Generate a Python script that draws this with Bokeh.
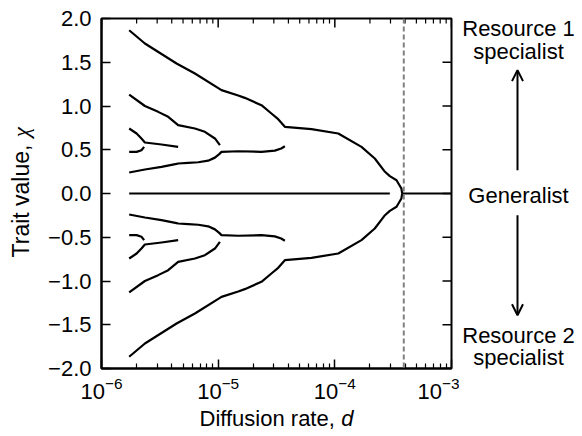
import math
from bokeh.plotting import figure
from bokeh.layouts import row, column
from bokeh.models import Range1d, FixedTicker, Span, Arrow, OpenHead
from bokeh.core.properties import value
from bokeh.embed import file_html
from bokeh.resources import INLINE

# ---------------- data (upper half; lower half is its mirror image) ----------------
d_crit = 3.9e-4

zero_left_d = [1.727e-6, 2.96e-4]
zero_right_d = [3.78e-4, 1e-3]

curve_a_d = [1.727e-6, 2.355e-6, 4.40e-6, 6.32e-6, 1.068e-5, 1.485e-5, 1.69e-5, 2.35e-5,
             2.86e-5, 3.27e-5, 3.73e-5, 6.31e-5, 1.07e-4, 1.692e-4, 2.20e-4, 2.69e-4,
             2.96e-4, 3.38e-4, 3.72e-4, 3.78e-4]
curve_a_chi = [1.866, 1.714, 1.486, 1.371, 1.181, 1.12, 1.093, 1.009,
               0.914, 0.849, 0.762, 0.735, 0.686, 0.533, 0.40, 0.248,
               0.198, 0.152, 0.057, 0.0]

curve_b_d = [1.727e-6, 2.355e-6, 3.27e-6, 4.40e-6, 4.54e-6, 5.53e-6, 6.75e-6, 8.21e-6,
             9.38e-6, 1.021e-5, 1.068e-5, 1.485e-5, 2.35e-5, 3.06e-5, 3.47e-5, 3.73e-5]
curve_b_chi = [0.24, 0.274, 0.305, 0.338, 0.343, 0.35, 0.357, 0.375,
               0.41, 0.45, 0.476, 0.483, 0.476, 0.49, 0.515, 0.54]

curve_c_d = [1.727e-6, 2.355e-6, 3.06e-6, 3.73e-6, 4.54e-6, 6.32e-6, 7.69e-6, 9.38e-6, 1.035e-5]
curve_c_chi = [1.131, 1.0, 0.933, 0.876, 0.781, 0.743, 0.705, 0.629, 0.552]

curve_d_d = [1.727e-6, 2.0e-6, 2.2e-6, 2.355e-6, 3.27e-6, 4.54e-6]
curve_d_chi = [0.743, 0.686, 0.629, 0.583, 0.56, 0.533]

curve_e_d = [1.727e-6, 2.0e-6, 2.2e-6, 2.32e-6]
curve_e_chi = [0.476, 0.476, 0.495, 0.533]

x_ticks = [1e-6, 1e-5, 1e-4, 1e-3]
x_minor_ticks = [m * 10.0 ** e for e in (-6, -5, -4) for m in range(2, 10)]
y_ticks = [-2.0, -1.5, -1.0, -0.5, 0.0, 0.5, 1.0, 1.5, 2.0]
y_tick_labels = ["\u22122.0", "\u22121.5", "\u22121.0", "\u22120.5", "0.0",
                 "0.5", "1.0", "1.5", "2.0"]

annot_text = ["Resource 1", "specialist", "Generalist", "Resource 2", "specialist"]
annot_chi = [1.817, 1.554, -0.091, -1.686, -1.937]
arrow_up = (0.266, 1.41)
arrow_down = (-0.248, -1.391)

x_title = "Diffusion rate, "
x_title_var = "d"
y_title = "Trait value, "
y_title_var = "\u03c7"

# ---------------- layout constants (px) ----------------
FONT = "Liberation Sans"
LEFT_W = 42
MAIN_BL = 59
FRAME = 350
MAIN_BR = 8
MAIN_W = MAIN_BL + FRAME + MAIN_BR
SIDE_W = 117
TOTAL_W = LEFT_W + MAIN_W + SIDE_W
FRAME_TOP = 18
MAIN_BB = 34
ROW_H = FRAME_TOP + FRAME + MAIN_BB
BOTTOM_H = 28
TEXT_DROP = 0.26  # empirical downward offset of glyph text, in em

X_LO, X_HI = 1e-6, 1e-3
Y_LO, Y_HI = -2.0, 2.0
chi_per_px = (Y_HI - Y_LO) / FRAME
dec_per_px = (math.log10(X_HI) - math.log10(X_LO)) / FRAME

MAJ, MIN = 9, 5

# ---------------- main plot ----------------
p = figure(width=MAIN_W, height=ROW_H, x_axis_type="log",
           x_range=Range1d(X_LO, X_HI), y_range=Range1d(Y_LO, Y_HI),
           output_backend="svg", toolbar_location=None,
           min_border_left=MAIN_BL, min_border_right=MAIN_BR,
           min_border_top=FRAME_TOP, min_border_bottom=MAIN_BB)
p.grid.visible = False
p.outline_line_color = "black"
p.outline_line_width = 2

bx = p.below[0]
ly = p.left[0]
bx.ticker = FixedTicker(ticks=x_ticks, minor_ticks=x_minor_ticks)
ly.ticker = FixedTicker(ticks=y_ticks)
ly.minor_tick_line_color = None
for ax in (bx, ly):
    ax.axis_line_width = 2
    ax.axis_line_color = "black"
    ax.major_tick_in = MAJ
    ax.major_tick_out = 0
    ax.minor_tick_in = MIN
    ax.minor_tick_out = 0
    ax.major_tick_line_width = 1.5
    ax.minor_tick_line_width = 1.2
    ax.major_label_text_font = FONT
    ax.major_label_text_font_size = "22px"
    ax.major_label_text_color = "black"
bx.major_label_standoff = 8
ly.major_label_standoff = 10
ly.major_label_overrides = dict(zip(y_ticks, y_tick_labels))

# mirrored ticks on the top and right edges
top_in_maj = Y_HI - MAJ * chi_per_px
top_in_min = Y_HI - MIN * chi_per_px
p.segment(x0=x_ticks, y0=[top_in_maj] * len(x_ticks), x1=x_ticks, y1=[Y_HI] * len(x_ticks),
          line_color="black", line_width=1.5)
p.segment(x0=x_minor_ticks, y0=[top_in_min] * len(x_minor_ticks), x1=x_minor_ticks,
          y1=[Y_HI] * len(x_minor_ticks), line_color="black", line_width=1.2)
right_in = 10 ** (math.log10(X_HI) - MAJ * dec_per_px)
p.segment(x0=[right_in] * len(y_ticks), y0=y_ticks, x1=[X_HI] * len(y_ticks), y1=y_ticks,
          line_color="black", line_width=1.5)

p.add_layout(Span(location=d_crit, dimension="height", line_color="#808080",
                  line_width=2, line_dash="5 3"))

LW = 2.2
p.line(zero_left_d, [0, 0], line_color="black", line_width=LW)
p.line(zero_right_d, [0, 0], line_color="black", line_width=LW)
for dd, cc in [(curve_a_d, curve_a_chi), (curve_b_d, curve_b_chi),
               (curve_c_d, curve_c_chi), (curve_d_d, curve_d_chi),
               (curve_e_d, curve_e_chi)]:
    p.line(dd, cc, line_color="black", line_width=LW, line_join="round")
    p.line(dd, [-c for c in cc], line_color="black", line_width=LW, line_join="round")


def blank(width, height, xr, yr, top=0, bottom=0):
    f = figure(width=width, height=height, x_range=xr, y_range=yr,
               output_backend="svg", toolbar_location=None,
               min_border_left=0, min_border_right=0,
               min_border_top=top, min_border_bottom=bottom,
               x_axis_location=None, y_axis_location=None)
    f.grid.visible = False
    f.outline_line_color = None
    return f


# ---------------- left strip: y title ----------------
left = blank(LEFT_W, ROW_H, Range1d(0, LEFT_W), Range1d(Y_LO, Y_HI), FRAME_TOP, MAIN_BB)
Y_FS = 23
y_start = -0.731
left.text(x=[20.5], y=[y_start], text=[y_title], angle=math.pi / 2,
          text_font=value(FONT), text_font_size=value(f"{Y_FS}px"),
          text_align="left", text_baseline="middle", text_color="black")
left.text(x=[20.5], y=[y_start + 5.224 * Y_FS * chi_per_px], text=[y_title_var],
          angle=math.pi / 2, text_font=value("Liberation Serif"),
          text_font_style="italic", text_font_size=value(f"{Y_FS}px"),
          text_align="left", text_baseline="middle", text_color="black")

# ---------------- right strip: annotations ----------------
A_FS = 22
side = blank(SIDE_W, ROW_H, Range1d(0, SIDE_W), Range1d(Y_LO, Y_HI), FRAME_TOP, MAIN_BB)
side.text(x=[59] * len(annot_text),
          y=[c + TEXT_DROP * A_FS * chi_per_px for c in annot_chi], text=annot_text,
          text_font=value(FONT), text_font_size=value(f"{A_FS}px"),
          text_align="center", text_baseline="alphabetic", text_color="black")
for y0, y1 in (arrow_up, arrow_down):
    side.add_layout(Arrow(end=OpenHead(size=11, line_width=2, line_color="black"),
                          x_start=58, y_start=y0, x_end=58, y_end=y1,
                          line_width=2, line_color="black"))

# ---------------- bottom strip: x title ----------------
X_FS = 22
x_base = 6.4 + TEXT_DROP * X_FS  # baseline height above the strip's bottom
x_left = 199
bottom = blank(TOTAL_W, BOTTOM_H, Range1d(0, TOTAL_W), Range1d(0, BOTTOM_H))
bottom.text(x=[x_left], y=[x_base], text=[x_title], text_font=value(FONT),
            text_font_size=value(f"{X_FS}px"), text_align="left",
            text_baseline="alphabetic", text_color="black")
bottom.text(x=[x_left + 6.447 * X_FS], y=[x_base], text=[x_title_var], text_font=value(FONT),
            text_font_style="italic", text_font_size=value(f"{X_FS}px"), text_align="left",
            text_baseline="alphabetic", text_color="black")

layout = column(row(left, p, side), bottom)
open("out.html", "w").write(file_html(layout, INLINE))
